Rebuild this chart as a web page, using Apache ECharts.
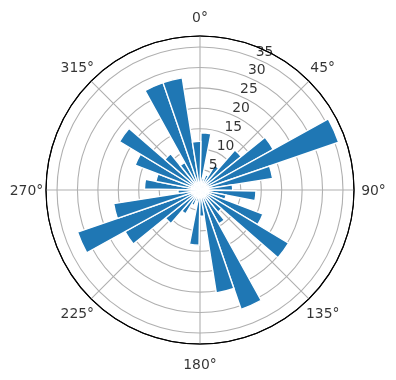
<!DOCTYPE html>
<html><head><meta charset="utf-8">
<script src="https://cdn.jsdelivr.net/npm/echarts@6/dist/echarts.min.js"></script>
<style>html,body{margin:0;padding:0;background:#fff}#c{width:396px;height:380px}</style>
</head><body><div id="c"></div>
<script>
// bin centres (degrees, clockwise from north)
const binCenters = [6,16,26,36,46,56,66,76,86,96,106,116,126,136,146,156,166,176,
                    186,196,206,216,226,236,246,256,266,276,286,296,306,316,326,336,346,356];
const binWidth = 10;
const barValues = [14,3,4,7,13,20.5,35.9,18,8,13.7,6.5,16.5,25.3,7,9.5,30.9,25.5,6.4,
                   13.5,3,4,6.8,10.9,21,31.7,21.4,5.4,13.6,11,17,23,11.4,7.7,27.8,27.8,11.9];
const angleTicks = [0,45,90,135,180,225,270,315];
const radiusTicks = [5,10,15,20,25,30,35];
const rMax = 37.7;
const rLabelAngle = 22.5;

const CX = 200, CY = 190, R = 154;
const FONT = 'DejaVu Sans', FS = 13.9;
const GRID = '#b0b0b0';
const labelPad = 19.5; // px beyond the outer circle

const chart = echarts.init(document.getElementById('c'), null, {renderer: 'canvas'});
const splitColors = [GRID,GRID,GRID,GRID,GRID,GRID,GRID,GRID,'#000'];
const option = {
  animation: false,
  polar: [{center: [CX, CY], radius: R}, {center: [CX, CY], radius: R}],
  angleAxis: [
    {polarIndex: 0, type: 'value', min: 0, max: 360, interval: 45, startAngle: 90, clockwise: true,
     axisLine: {show: true, lineStyle: {color: '#000', width: 1.1}},
     axisTick: {show: false}, axisLabel: {show: false},
     splitLine: {show: true, lineStyle: {color: GRID, width: 1.1}}},
    {polarIndex: 1, type: 'category', data: binCenters.map(String),
     startAngle: 90 - (binCenters[0] - binWidth / 2), clockwise: true,
     boundaryGap: true, show: false,
     axisLine: {show: false}, axisTick: {show: false}, axisLabel: {show: false}, splitLine: {show: false}}
  ],
  radiusAxis: [
    {polarIndex: 0, type: 'value', min: 0, max: rMax, interval: 5,
     axisLine: {show: false}, axisTick: {show: false}, axisLabel: {show: false},
     splitLine: {show: true, lineStyle: {color: splitColors, width: 1.1}}},
    {polarIndex: 1, type: 'value', min: 0, max: rMax, show: false,
     axisLine: {show: false}, axisTick: {show: false}, axisLabel: {show: false}, splitLine: {show: false}}
  ],
  series: [
    {type: 'bar', coordinateSystem: 'polar', polarIndex: 1, data: barValues,
     barCategoryGap: '0%',
     itemStyle: {color: '#1f77b4', borderColor: '#ffffff', borderWidth: 1.4}},
    {type: 'scatter', coordinateSystem: 'polar', polarIndex: 0, symbolSize: 0, clip: false, silent: true,
     data: angleTicks.map(a => [rMax * (1 + labelPad / R), a]),
     label: {show: true, position: 'inside', offset: [0, 1.5], formatter: p => p.value[1] + '°',
             color: '#000', fontFamily: FONT, fontSize: FS}},
    {type: 'scatter', coordinateSystem: 'polar', polarIndex: 0, symbolSize: 0, clip: false, silent: true,
     data: radiusTicks.map(r => [r, rLabelAngle]),
     label: {show: true, position: [1, 1], align: 'left', verticalAlign: 'bottom',
             formatter: p => String(p.value[0]),
             color: '#000', fontFamily: FONT, fontSize: FS}}
  ]
};
chart.setOption(option);
</script></body></html>
